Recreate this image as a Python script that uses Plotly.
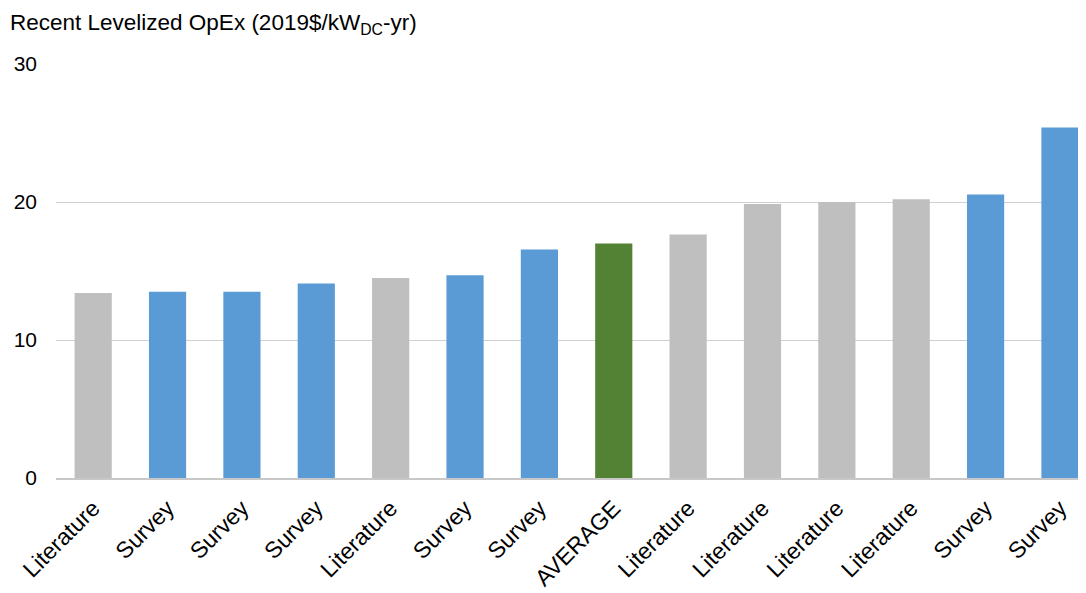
import plotly.graph_objects as go

categories = ["Literature", "Survey", "Survey", "Survey", "Literature", "Survey", "Survey",
              "AVERAGE", "Literature", "Literature", "Literature", "Literature", "Survey", "Survey"]
values = [13.4, 13.5, 13.5, 14.1, 14.5, 14.7, 16.55, 17.0, 17.65, 19.85, 20.0, 20.2, 20.55, 25.4]
tick_values = [0, 10, 20, 30]

color_map = {"Literature": "#BFBFBF", "Survey": "#5B9BD5", "AVERAGE": "#548235"}
colors = [color_map[c] for c in categories]
positions = list(range(len(categories)))

fig = go.Figure(go.Bar(
    x=positions, y=values,
    marker=dict(color=colors, line=dict(width=0)),
    width=0.5,
    hoverinfo="y",
))

fig.update_layout(
    width=1078, height=585,
    margin=dict(l=48, r=0, t=56, b=115),
    paper_bgcolor="white", plot_bgcolor="white",
    font=dict(family="Liberation Sans, Arial, sans-serif", color="#000000", size=20),
    showlegend=False,
    title=dict(
        text="Recent Levelized OpEx (2019$/kW<sub>DC</sub>-yr)",
        x=2 / 1078, xref="container", xanchor="left",
        y=1 - 14 / 585, yref="container", yanchor="middle",
        font=dict(size=22.5, color="#000000"),
    ),
    xaxis=dict(
        range=[-0.5, 13.35],
        tickmode="array", tickvals=positions, ticktext=categories,
        tickangle=-45, ticks="", showgrid=False,
        showline=True, linecolor="#C8C8C8", linewidth=1.5,
        zeroline=False, ticklabelstandoff=6,
        tickfont=dict(size=23),
    ),
    yaxis=dict(
        range=[0, 30], tickmode="array", tickvals=tick_values,
        showgrid=True, gridcolor="#D0D0D0", gridwidth=1,
        zeroline=False, showline=False, ticks="",
        ticklabelstandoff=18,
        tickfont=dict(size=21),
    ),
)

fig.write_html("out.html")
